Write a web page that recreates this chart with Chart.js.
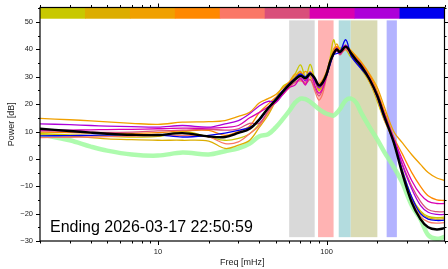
<!DOCTYPE html>
<html lang="en">
<head>
<meta charset="UTF-8">
<title>Power spectrum</title>
<script src="https://cdn.jsdelivr.net/npm/chart.js"></script>
<style>
  body { margin: 0; background: #fff; }
  #grafico { display: block; }
</style>
</head>
<body>
<canvas id="grafico" width="448" height="269"></canvas>
<script>
// frequencies in mHz, shared by every trace
var freqs = [2, 3, 4, 5, 7, 10, 14, 20, 25, 30, 35,
    40, 45, 50, 55, 60, 65, 70, 75, 80, 85, 90, 95, 100, 105, 110, 115, 120, 130, 140, 150, 160, 180, 200, 220,
    250, 280, 320, 360, 400, 450, 500];

// one trace per time slice (same order as the colour strip on top)
var p1 = [9.2, 8.8, 8.5, 8.3, 8.0, 8.2, 10.0, 8.0, 6.8, 7.5, 9.2,
    12.8, 17, 22, 26.5, 28, 31, 34.3, 30, 34.5, 29, 25, 27, 31, 37, 43.5, 40, 40.5, 40, 37, 37, 33, 28, 21, 14,
    6.5, -3.5, -14, -19, -21, -21.5, -21.3];
var p2 = [8.8, 8.3, 7.8, 7.3, 7.0, 6.8, 6.8, 6.5, 3.8, 5.0, 6.8,
    11.6, 16, 21, 24, 27.5, 30, 32, 29, 31, 29, 25.5, 27, 30.5, 36, 40, 41, 38.5, 40, 38, 35, 33.5, 28, 22, 14.5,
    6.5, -4, -14.5, -19.5, -21.5, -22, -21.8];
var p3 = [14.8, 14.3, 13.9, 13.5, 13.0, 12.6, 13.4, 13.6, 14.0, 15.5, 17.0,
    20.5, 22, 23.5, 26, 28, 31, 30, 32, 30, 28, 27.5, 29, 32, 36, 39.5, 42, 40, 41.5, 39.5, 37.5, 35.5, 31, 26, 19,
    10, 6, 1.5, -2, -5, -7, -7.9];
var p4 = [9.8, 9.6, 9.4, 9.3, 9.3, 9.6, 10.2, 10.4, 8.6, 10.0, 12.0,
    17, 20, 22.5, 25, 28, 29.5, 31.5, 29, 32, 29, 27, 28.5, 31.5, 36, 39, 41, 39.5, 41.5, 39, 37, 35, 30.5, 24.5, 17.5,
    8, 2, -5, -10, -13.5, -15, -15.2];
var p5 = [7.8, 7.9, 8.0, 8.1, 8.3, 8.5, 8.6, 8.0, 5.6, 6.2, 9.2,
    12.2, 17, 21, 23.5, 26, 28, 28.5, 28, 29, 25, 21.5, 24, 30, 35, 38, 39.5, 38.5, 40, 38, 35.5, 33.5, 28.5, 22, 14.5,
    6, -4.5, -15, -21, -23, -23.5, -23.3];
var p6 = [10.2, 10.0, 9.8, 9.7, 9.8, 10.2, 10.5, 10.8, 10.5, 11.0, 13.0,
    13, 17.5, 21, 24, 26.5, 28, 29, 27.5, 29, 26, 23, 25.5, 30, 35, 38, 40, 38, 40.5, 38, 36, 34, 29, 22.5, 15,
    7, -1.5, -10, -15.5, -18.5, -19.3, -19.3];
var p7 = [10.5, 10.5, 10.6, 10.7, 10.8, 11.0, 11.2, 11.2, 11.5, 12.2, 15.0,
    17, 19, 20.5, 23.5, 26, 27, 29.5, 27, 31.5, 27, 24, 26, 30.5, 35, 38.5, 40.5, 38.5, 41, 38.5, 36.5, 34.5, 29.5, 23.5, 16.5,
    7.5, 0, -8, -13, -15.5, -16.3, -16.3];
var p8 = [12.8, 12.5, 12.2, 12.0, 11.8, 11.6, 12.2, 11.6, 12.8, 14.0, 16.5,
    19.4, 21, 21, 24, 27, 29, 30.5, 28.5, 31, 28.5, 26, 27.5, 31, 35.5, 38, 39.5, 39.5, 41.5, 38, 36, 34, 29, 23, 16,
    7, -2, -11, -17, -19.5, -20.3, -20.3];
var p9 = [8.4, 8.5, 8.6, 8.7, 8.8, 8.8, 8.0, 8.6, 9.4, 10.4, 11.5,
    14, 18.5, 22, 25, 27.5, 29.5, 31, 30, 31.5, 29, 27, 28, 30.5, 34.5, 38, 38.5, 39, 43.5, 37.5, 35, 33, 29, 22.5, 15,
    6.5, -4, -14, -20, -22, -22.5, -22.4];

// average of all slices
var media = [11.0, 10.2, 9.6, 9.2, 8.8, 8.7, 9.4, 8.2, 8.0, 9.5, 11.0,
    14.5, 18.5, 21.5, 24.5, 27, 29, 30.3, 29.5, 31, 29.5, 26.8, 28, 31, 35.5, 38.5, 40, 39, 41, 38.5, 36, 34, 29, 23, 15.5,
    6, -5, -16, -22, -25, -25.8, -25.3];

// reference / noise curve (light green)
var referencia = [9.0, 6.8, 4.5, 3.0, 1.6, 1.2, 2.3, 1.6, 2.8, 3.8, 5.6,
    8.3, 9.0, 11.5, 14.5, 17.5, 20.5, 22, 21.8, 20.8, 19.5, 18.2, 17.2, 16.5, 16.1, 15.8, 16.8, 18.2, 21.4, 22, 20.5, 17, 11.5, 7, 2.5,
    -3, -8.5, -17, -22, -27.8, -29.2, -28.5];

// shaded bands (mHz)
var bandLo = [60, 89, 118, 139, 227];
var bandHi = [85, 110, 139, 200, 261];

// axis ticks
var yTicks = [-30, -20, -10, 0, 10, 20, 30, 40, 50];
var yMinor = [-25, -15, -5, 5, 15, 25, 35, 45, 55];
var xTicks = [10, 100];
var xMinor = [2, 3, 4, 5, 6, 7, 8, 9, 20, 30, 40, 50, 60, 70, 80, 90, 200, 300, 400, 500];

var rotulo = 'Ending 2026-03-17 22:50:59';

// styles
var periodColors = ['#c8c800', '#dcad00', '#f0a000', '#ff8800', '#fa7766', '#d94f7a', '#d900b0', '#ad00d9', '#0000ee'];
var bandColors = ['#d9d9d9', '#ffb3b3', '#b3dcdf', '#d9dab3', '#b3b3ff'];

var decor = {
    id: 'decor',
    beforeDatasetsDraw: function (chart) {
        var ctx = chart.ctx, x = chart.scales.x, y = chart.scales.y, a = chart.chartArea;
        ctx.save();
        var yt = y.getPixelForValue(50.6), yb = y.getPixelForValue(-28.6);
        for (var i = 0; i < bandLo.length; i++) {
            var x0 = x.getPixelForValue(bandLo[i]);
            var x1 = x.getPixelForValue(bandHi[i]);
            ctx.fillStyle = bandColors[i];
            ctx.fillRect(x0, yt, x1 - x0, yb - yt);
        }
        // colour strip along the top
        var w = (a.right - a.left) / periodColors.length;
        var sb = y.getPixelForValue(51.2);
        for (var j = 0; j < periodColors.length; j++) {
            ctx.fillStyle = periodColors[j];
            ctx.fillRect(a.left + j * w, a.top, w + 0.5, sb - a.top);
        }
        ctx.restore();
    },
    afterDraw: function (chart) {
        var ctx = chart.ctx, x = chart.scales.x, y = chart.scales.y, a = chart.chartArea;
        ctx.save();
        ctx.strokeStyle = '#000';
        ctx.lineWidth = 1;
        ctx.beginPath();
        function tickY(v, len) {
            var py = Math.round(y.getPixelForValue(v)) + 0.5;
            ctx.moveTo(a.left - len, py); ctx.lineTo(a.left, py);
            ctx.moveTo(a.right, py); ctx.lineTo(a.right + len, py);
        }
        function tickX(v, len) {
            var px = Math.round(x.getPixelForValue(v)) + 0.5;
            ctx.moveTo(px, a.bottom); ctx.lineTo(px, a.bottom + len);
            ctx.moveTo(px, a.top); ctx.lineTo(px, a.top - len);
        }
        yTicks.forEach(function (v) { tickY(v, 4); });
        yMinor.forEach(function (v) { if (v < y.max) tickY(v, 2); });
        xTicks.forEach(function (v) { tickX(v, 4); });
        xMinor.forEach(function (v) { tickX(v, 2.5); });
        ctx.stroke();

        ctx.lineWidth = 1.2;
        ctx.strokeRect(a.left, a.top, a.right - a.left, a.bottom - a.top);

        ctx.fillStyle = '#000';
        ctx.font = '16px "Liberation Sans", Arial, sans-serif';
        ctx.textBaseline = 'alphabetic';
        ctx.fillText(rotulo, 50, 232);
        ctx.restore();
    }
};

function linha(valores, cor, largura) {
    return {
        data: valores,
        borderColor: cor,
        borderWidth: largura,
        pointRadius: 0,
        tension: 0.35,
        fill: false
    };
}

Chart.defaults.font.family = '"Liberation Sans", Arial, sans-serif';
Chart.defaults.color = '#222';

var grafico = document.getElementById('grafico');
var espectro = new Chart(grafico, {
    type: 'line',
    data: {
        labels: freqs,
        // first dataset is drawn on top
        datasets: [
            linha(media, '#000', 2.4),
            linha(p9, periodColors[8], 1.3),
            linha(p8, periodColors[7], 1.3),
            linha(p7, periodColors[6], 1.3),
            linha(p6, periodColors[5], 1.3),
            linha(p5, periodColors[4], 1.3),
            linha(p4, periodColors[3], 1.3),
            linha(p3, periodColors[2], 1.3),
            linha(p2, periodColors[1], 1.3),
            linha(p1, periodColors[0], 1.3),
            linha(referencia, 'rgba(160, 250, 160, 0.85)', 4.5)
        ]
    },
    plugins: [decor],
    options: {
        responsive: false,
        animation: false,
        layout: { padding: { top: 3, right: 3.5, bottom: 0, left: 0 } },
        plugins: {
            legend: { display: false },
            tooltip: { enabled: false }
        },
        scales: {
            x: {
                type: 'logarithmic',
                min: 2,
                max: 500,
                afterBuildTicks: function (s) { s.ticks = xTicks.map(function (v) { return { value: v }; }); },
                afterFit: function (s) { s.height = 28; },
                grid: { display: false, drawTicks: true, tickLength: 4 },
                border: { display: false },
                ticks: {
                    autoSkip: false,
                    maxRotation: 0,
                    padding: 2,
                    font: { size: 7.5 },
                    callback: function (v) { return String(v); }
                },
                title: { display: true, text: 'Freq [mHz]', font: { size: 9 }, padding: { top: 0, bottom: 1 } }
            },
            y: {
                min: -30,
                max: 55.3,
                afterBuildTicks: function (s) { s.ticks = yTicks.map(function (v) { return { value: v }; }); },
                afterFit: function (s) { s.width = 40; },
                grid: { display: false, drawTicks: true, tickLength: 4 },
                border: { display: false },
                ticks: {
                    padding: 3,
                    font: { size: 7.5 },
                    callback: function (v) { return v < 0 ? '\u2212' + Math.abs(v) : String(v); }
                },
                title: { display: true, text: 'Power [dB]', font: { size: 9 }, padding: { top: 6.5, bottom: 0 } }
            }
        }
    }
});
</script>
</body>
</html>
